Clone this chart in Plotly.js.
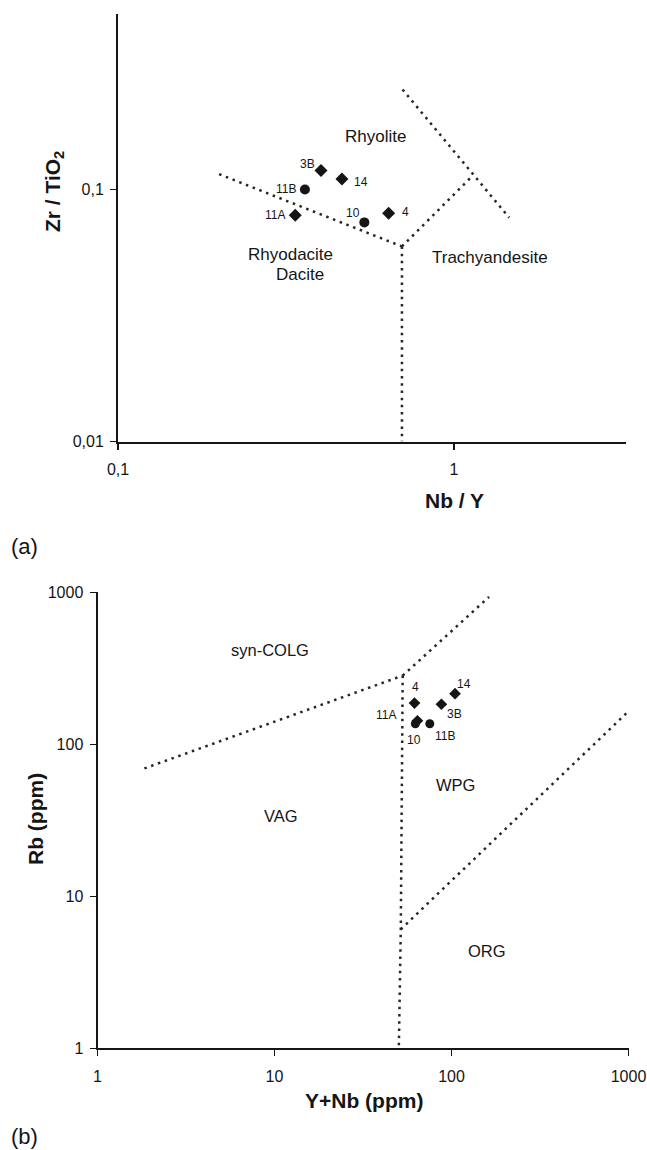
<!DOCTYPE html>
<html><head><meta charset="utf-8">
<script src="https://cdn.plot.ly/plotly-3.0.1.min.js"></script>
<style>html,body{margin:0;padding:0;background:#fff}#chart{width:647px;height:1150px}</style>
</head><body><div id="chart"></div>
<script>
// ---------- (a) Zr/TiO2 vs Nb/Y ----------
const samplesA = ['3B', '14', '11B', '11A', '10', '4'];
const nbY      = [0.402, 0.464, 0.360, 0.337, 0.541, 0.639];
const zrTiO2   = [0.119, 0.110, 0.100, 0.079, 0.074, 0.0805];
const symbolsA = ['diamond', 'diamond', 'circle', 'diamond', 'circle', 'diamond'];

// field boundaries (a)
const bndA1x = [0.20, 0.70],  bndA1y = [0.115, 0.0594];
const bndA2x = [0.70, 0.70],  bndA2y = [0.0594, 0.01];
const bndA3x = [0.70, 1.13],  bndA3y = [0.0594, 0.1125];
const bndA4x = [0.703, 1.46], bndA4y = [0.249, 0.0773];

const xTicksA = [0.1, 1],     xTickTextA = ['0,1', '1'];
const yTicksA = [0.01, 0.1],  yTickTextA = ['0,01', '0,1'];

// ---------- (b) Rb vs Y+Nb ----------
const samplesB = ['4', '14', '3B', '11A', '10', '11B'];
const yPlusNb  = [61.8, 104.7, 87.7, 64.2, 62.5, 75.4];
const rb       = [186.7, 215.4, 183.5, 142.9, 136.5, 136.5];
const symbolsB = ['diamond', 'diamond', 'diamond', 'diamond', 'circle', 'circle'];

// field boundaries (b)
const bndB1x = [1.84, 53],        bndB1y = [69.4, 283];
const bndB2x = [53, 163],         bndB2y = [283, 933];
const bndB3x = [53, 51.7, 50.4],  bndB3y = [283, 6.07, 1];
const bndB4x = [51.7, 973],       bndB4y = [6.07, 160];

const ticksB = [1, 10, 100, 1000], tickTextB = ['1', '10', '100', '1000'];

// ---------- layout helpers ----------
const W = 647, H = 1150;
const px = v => v / W, py = v => 1 - v / H;
const FONT = 'Liberation Sans, Arial, Helvetica, sans-serif';
const INK = '#151515';

function bnd(x, y, xa, ya) {
  return {x: x, y: y, xaxis: xa, yaxis: ya, mode: 'lines', hoverinfo: 'skip', showlegend: false,
          line: {color: '#262626', width: 2.5, dash: '2.5px,4.7px'}};
}
function pts(x, y, sym, xa, ya, size) {
  return {x: x, y: y, xaxis: xa, yaxis: ya, mode: 'markers', showlegend: false,
          marker: {symbol: sym, size: size, color: INK}};
}

const traces = [
  bnd(bndA1x, bndA1y, 'x', 'y'),
  bnd(bndA2x, bndA2y, 'x', 'y'),
  bnd(bndA3x, bndA3y, 'x', 'y'),
  bnd(bndA4x, bndA4y, 'x', 'y'),
  pts(nbY, zrTiO2, symbolsA, 'x', 'y', 10),
  bnd(bndB1x, bndB1y, 'x2', 'y2'),
  bnd(bndB2x, bndB2y, 'x2', 'y2'),
  bnd(bndB3x, bndB3y, 'x2', 'y2'),
  bnd(bndB4x, bndB4y, 'x2', 'y2'),
  pts(yPlusNb, rb, symbolsB, 'x2', 'y2', 9)
];

const axisBase = {
  type: 'log', showline: true, linecolor: INK, linewidth: 2, mirror: false,
  ticks: 'outside', ticklen: 6, tickwidth: 1.5, tickcolor: INK,
  showgrid: false, zeroline: false, fixedrange: true,
  tickfont: {family: FONT, size: 16, color: INK}
};

// sample label offsets (pixels)
const offA = {'3B': [-14, 6], '14': [19, -3], '11B': [-19, 0], '11A': [-20, 0], '10': [-11, 9], '4': [17, 1]};
const offB = {'4': [1, 16], '14': [9, 10], '3B': [13, -10], '11A': [-31, 6], '10': [-1, -16], '11B': [15, -12]};

const ann = [];
samplesA.forEach((s, i) => ann.push({x: Math.log10(nbY[i]), y: Math.log10(zrTiO2[i]), xref: 'x', yref: 'y',
  text: s, showarrow: false, xshift: offA[s][0], yshift: offA[s][1], font: {family: FONT, size: 12, color: INK}}));
samplesB.forEach((s, i) => ann.push({x: Math.log10(yPlusNb[i]), y: Math.log10(rb[i]), xref: 'x2', yref: 'y2',
  text: s, showarrow: false, xshift: offB[s][0], yshift: offB[s][1], font: {family: FONT, size: 12, color: INK}}));

function label(text, x, y, size, angle) {
  ann.push({xref: 'paper', yref: 'paper', x: px(x), y: py(y), text: text, showarrow: false,
            textangle: angle || 0, xanchor: 'center', yanchor: 'middle',
            font: {family: FONT, size: size, color: INK}});
}
// field names
label('Rhyolite', 375, 137, 17);
label('Rhyodacite', 290, 254, 17);
label('Dacite', 300, 275, 17);
label('Trachyandesite', 490, 258, 17);
label('syn-COLG', 270, 650, 16.5);
label('VAG', 281, 816, 16.5);
label('WPG', 455, 785, 16.5);
label('ORG', 487, 951, 16.5);
// axis titles
label('<b>Nb / Y</b>', 454, 501, 21);
label('<b>Zr / TiO<sub>2</sub></b>', 54, 192, 21, -90);
label('<b>Y+Nb (ppm)</b>', 364, 1100, 21);
label('<b>Rb (ppm)</b>', 35, 819, 21, -90);
// panel letters
label('(a)', 24, 546, 22);
label('(b)', 24, 1136, 22);

const layout = {
  width: W, height: H, margin: {l: 0, r: 0, t: 0, b: 0},
  paper_bgcolor: '#fff', plot_bgcolor: 'rgba(0,0,0,0)', showlegend: false,
  font: {family: FONT, color: INK},
  xaxis: Object.assign({}, axisBase, {domain: [px(118), px(626)], anchor: 'y', range: [-1, 0.512],
    tickvals: xTicksA, ticktext: xTickTextA, ticklabelstandoff: 6}),
  yaxis: Object.assign({}, axisBase, {domain: [py(441.5), py(14)], anchor: 'x', range: [-2, -0.304],
    tickvals: yTicksA, ticktext: yTickTextA, ticklabelstandoff: 3}),
  xaxis2: Object.assign({}, axisBase, {domain: [px(97.5), px(628.5)], anchor: 'y2', range: [0, 3],
    tickvals: ticksB, ticktext: tickTextB, ticklabelstandoff: 6}),
  yaxis2: Object.assign({}, axisBase, {domain: [py(1048.3), py(592.3)], anchor: 'x2', range: [0, 3],
    tickvals: ticksB, ticktext: tickTextB, ticklabelstandoff: 3}),
  annotations: ann
};

Plotly.newPlot('chart', traces, layout, {staticPlot: true, displayModeBar: false});
</script>
</body></html>
